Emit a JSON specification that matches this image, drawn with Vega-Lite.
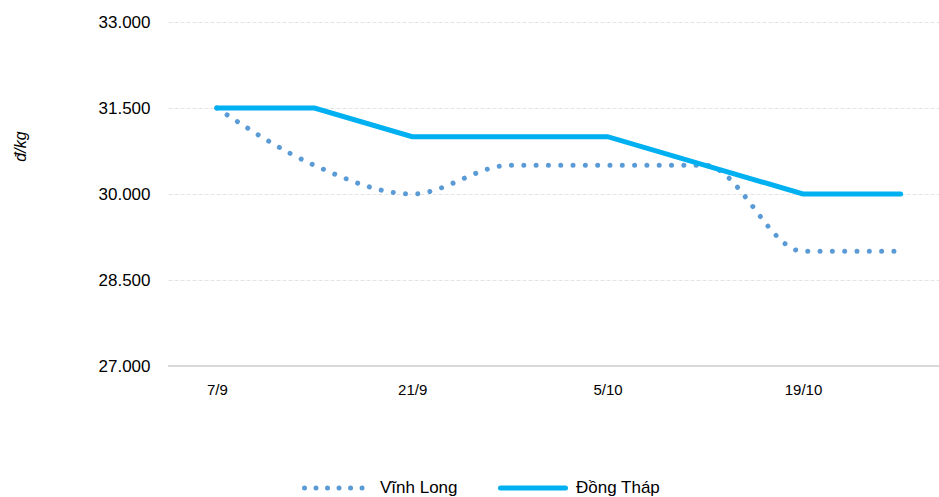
{
  "$schema": "https://vega.github.io/schema/vega-lite/v6.json",
  "width": 771,
  "height": 344,
  "autosize": "none",
  "padding": {"left": 168, "top": 22, "right": 0, "bottom": 131},
  "background": "white",
  "config": {
    "font": "Liberation Sans",
    "view": {"stroke": null}
  },
  "data": {
    "values": [
      {"date": "7/9", "series": "Vĩnh Long", "price": 31500},
      {"date": "14/9", "series": "Vĩnh Long", "price": 30500},
      {"date": "21/9", "series": "Vĩnh Long", "price": 30000},
      {"date": "28/9", "series": "Vĩnh Long", "price": 30500},
      {"date": "5/10", "series": "Vĩnh Long", "price": 30500},
      {"date": "12/10", "series": "Vĩnh Long", "price": 30500},
      {"date": "19/10", "series": "Vĩnh Long", "price": 29000},
      {"date": "26/10", "series": "Vĩnh Long", "price": 29000},
      {"date": "7/9", "series": "Đồng Tháp", "price": 31500},
      {"date": "14/9", "series": "Đồng Tháp", "price": 31500},
      {"date": "21/9", "series": "Đồng Tháp", "price": 31000},
      {"date": "28/9", "series": "Đồng Tháp", "price": 31000},
      {"date": "5/10", "series": "Đồng Tháp", "price": 31000},
      {"date": "12/10", "series": "Đồng Tháp", "price": 30500},
      {"date": "19/10", "series": "Đồng Tháp", "price": 30000},
      {"date": "26/10", "series": "Đồng Tháp", "price": 30000}
    ]
  },
  "encoding": {
    "x": {"field": "date", "type": "ordinal", "sort": null,
      "scale": {"type": "point", "padding": 0.446, "align": 0.56},
      "axis": {
        "title": null,
        "domain": false,
        "ticks": false,
        "labelFontSize": 15,
        "labelColor": "#000000",
        "labelPadding": 16,
        "labelAngle": 0,
        "labelExpr": "indexof(['7/9','21/9','5/10','19/10'], datum.value) >= 0 ? datum.value : ''"
      }
    },
    "y": {"field": "price", "type": "quantitative",
      "scale": {"domain": [27000, 33000], "nice": false, "zero": false},
      "axis": {
        "title": "đ/kg",
        "titleFont": "Liberation Sans",
        "titleFontStyle": "italic",
        "titleFontWeight": "normal",
        "titleFontSize": 16,
        "titleColor": "#000000",
        "titleAngle": 270,
        "titleAlign": "center",
        "titleBaseline": "middle",
        "titleX": -148,
        "titleY": 124,
        "values": [27000, 28500, 30000, 31500, 33000],
        "labelExpr": "replace(format(datum.value, ',.0f'), ',', '.')",
        "labelFontSize": 17,
        "labelColor": "#000000",
        "labelPadding": 18,
        "domain": false,
        "ticks": false,
        "grid": true,
        "gridColor": "#e4e4e4",
        "gridDash": [4, 2],
        "gridWidth": 1
      }
    }
  },
  "layer": [
    {
      "mark": {"type": "line", "strokeWidth": 5, "strokeCap": "round", "opacity": 0},
      "encoding": {
        "stroke": {"field": "series", "type": "nominal",
          "scale": {"domain": ["Vĩnh Long", "Đồng Tháp"], "range": ["#5b9bd5", "#00b0f0"]},
          "legend": {
            "title": null,
            "orient": "none",
            "direction": "horizontal",
            "legendX": 134,
            "legendY": 431,
            "symbolType": "stroke",
            "symbolSize": 4225,
            "symbolStrokeWidth": 5,
            "symbolOpacity": 1,
            "labelFontSize": 17,
            "labelColor": "#000000",
            "labelOffset": 8,
            "columnPadding": 32,
            "encode": {"symbols": {"update": {"strokeCap": {"value": "round"}}}}
          }
        },
        "strokeDash": {"field": "series", "type": "nominal",
          "scale": {"domain": ["Vĩnh Long", "Đồng Tháp"], "range": [[0.01, 11.5], [1, 0]]}
        }
      }
    },
    {
      "transform": [{"filter": "datum.series === 'Vĩnh Long'"}],
      "mark": {"type": "line", "interpolate": "monotone", "strokeWidth": 5, "strokeCap": "round", "strokeDash": [0.01, 12.3], "color": "#5b9bd5"}
    },
    {
      "transform": [{"filter": "datum.series === 'Đồng Tháp'"}],
      "mark": {"type": "line", "strokeWidth": 5, "strokeCap": "round", "strokeJoin": "miter", "color": "#00b0f0"}
    },
    {
      "mark": {"type": "rule", "color": "#d9d9d9", "strokeWidth": 2},
      "encoding": {"y": {"datum": 27000, "type": "quantitative"}, "x": {"value": 0}, "x2": {"value": 771}}
    }
  ]
}
